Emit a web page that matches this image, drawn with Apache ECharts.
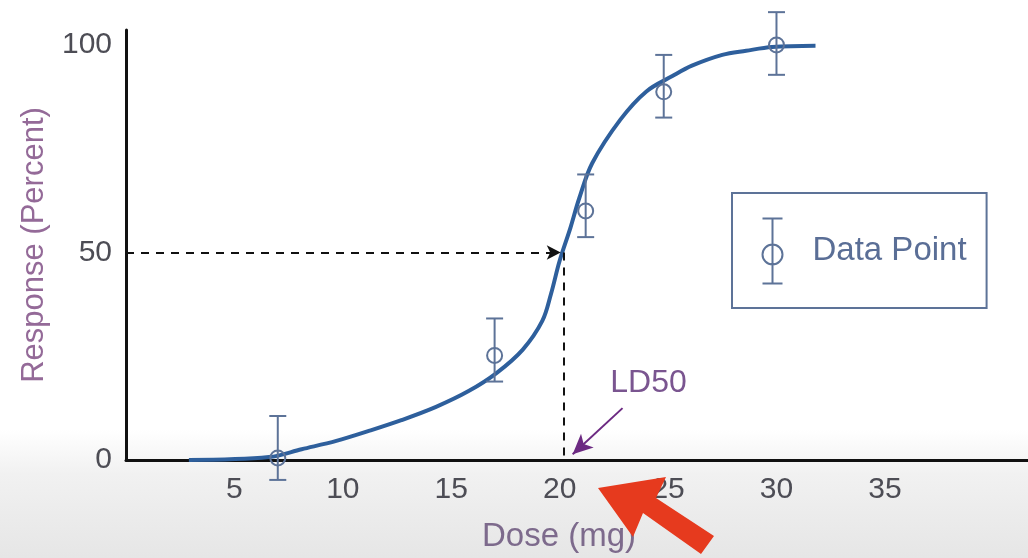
<!DOCTYPE html>
<html>
<head>
<meta charset="utf-8">
<script src="https://cdn.jsdelivr.net/npm/echarts@6/dist/echarts.min.js"></script>
<style>
html,body{margin:0;padding:0;}
body{width:1028px;height:558px;background:linear-gradient(to bottom,#ffffff 0%,#ffffff 77%,#f1f1f1 85%,#e6e6e6 100%);}
#chart{width:1028px;height:558px;}
</style>
</head>
<body>
<div id="chart"></div>
<script>
// Fitted dose-response curve
const curveDose = [2.9, 6.6, 8.1, 9.7, 11.2, 12.7, 14.3, 15.8, 17.1, 18.3, 19.2, 19.6, 20.0, 20.5, 20.9, 21.5, 22.8, 24.0, 25.2, 26.1, 27.5, 28.6, 29.8, 31.8];
const curveResponse = [0, 0.7, 2.6, 4.6, 7.0, 9.6, 12.8, 16.6, 21.0, 26.6, 33.5, 40.0, 48.0, 56.0, 63.0, 71.5, 82.0, 88.8, 92.5, 95.0, 97.6, 98.6, 99.5, 99.8];
// Measured data points with error bars
const pointDose = [7, 17, 21.2, 24.8, 30];
const pointResponse = [0.5, 25.2, 60, 88.7, 100];
const errLow = [-4.8, 18.9, 53.7, 82.5, 92.8];
const errHigh = [10.6, 34.1, 68.8, 97.6, 107.9];
// LD50
const ld50 = 20.2;
const ld50Response = 50;
// Tick labels
const xTickLabels = [5, 10, 15, 20, 25, 30, 35];
const yTickLabels = [0, 50, 100];

const errColor = '#5d7398';
const font = "'Liberation Sans', Arial, sans-serif";

const chart = echarts.init(document.getElementById('chart'), null, {renderer: 'canvas'});
const option = {
  backgroundColor: 'transparent',
  animation: false,
  textStyle: {fontFamily: font},
  grid: {left: 126, right: 0, top: 30, bottom: 96, containLabel: false},
  legend: {
    show: true,
    data: ['Data Point'],
    left: 732, top: 193,
    orient: 'vertical',
    padding: [23, 20, 22, 28],
    borderColor: errColor, borderWidth: 2,
    itemWidth: 20, itemHeight: 65,
    icon: 'path://M0,0 L20,0 M10,0 L10,65 M0,65 L20,65 M20,36 A10,10 0 1,1 0,36 A10,10 0 1,1 20,36 Z',
    itemStyle: {color: 'none', borderColor: errColor, borderWidth: 2},
    textStyle: {fontSize: 33, color: '#5a6e96', fontFamily: font, padding: [0, 0, 0, 25]},
    selectedMode: false
  },
  xAxis: {
    type: 'value', min: 0, max: 41.6, interval: 5,
    name: 'Dose (mg)', nameLocation: 'middle', nameGap: 60,
    nameTextStyle: {fontSize: 33, color: '#7d6a8c', fontFamily: font, padding: [0, 36, 0, 0]},
    axisLine: {show: true, onZero: false, lineStyle: {color: '#111', width: 3}},
    axisTick: {show: false},
    splitLine: {show: false},
    axisLabel: {
      fontSize: 30, color: '#4d4d55', margin: 15, fontFamily: font,
      showMaxLabel: false,
      formatter: v => xTickLabels.indexOf(v) >= 0 ? String(v) : ''
    }
  },
  yAxis: {
    type: 'value', min: 0, max: 103.6, interval: 50,
    name: 'Response (Percent)', nameLocation: 'middle', nameGap: 76, nameRotate: 90,
    nameTextStyle: {fontSize: 31, color: '#946a98', fontFamily: font},
    axisLine: {show: true, onZero: false, lineStyle: {color: '#111', width: 3}},
    axisTick: {show: false},
    splitLine: {show: false},
    axisLabel: {
      fontSize: 30, color: '#4d4d55', margin: 14, fontFamily: font,
      formatter: v => yTickLabels.indexOf(v) >= 0 ? String(v) : ''
    }
  },
  series: [
    {
      name: 'Curve', type: 'line',
      data: curveDose.map((d, i) => [d, curveResponse[i]]),
      smooth: 0.35,
      showSymbol: false, symbol: 'none',
      lineStyle: {color: '#2e5f9c', width: 4},
      z: 3,
      markLine: {
        silent: true, animation: false,
        symbol: ['none', 'none'],
        label: {show: false},
        data: [
          [
            {coord: [0, ld50Response], lineStyle: {color: '#111', type: [8, 7], width: 2}},
            {coord: [ld50 - 0.15, ld50Response], symbol: 'arrow', symbolSize: [11, 14]}
          ],
          [
            {coord: [ld50, ld50Response], lineStyle: {color: '#111', type: [8, 7], width: 2}},
            {coord: [ld50, 0]}
          ],
          [
            {coord: [22.9, 12.5], lineStyle: {color: '#6c2a82', type: 'solid', width: 2}},
            {coord: [20.6, 1.4], symbol: 'arrow', symbolSize: [14, 20]}
          ]
        ]
      },
      markPoint: {
        silent: true, animation: false,
        symbol: 'circle', symbolSize: 0,
        label: {show: true, position: 'inside', formatter: 'LD50', fontSize: 32, color: '#7a5590', fontFamily: font},
        data: [{coord: [24.1, 18.5]}]
      }
    },
    {
      name: 'Data Point', type: 'custom',
      data: pointDose.map((d, i) => [d, pointResponse[i], errLow[i], errHigh[i]]),
      encode: {x: 0, y: 1},
      clip: false,
      z: 4,
      itemStyle: {color: errColor},
      renderItem: function (params, api) {
        const x = api.value(0), y = api.value(1), lo = api.value(2), hi = api.value(3);
        const c = api.coord([x, y]);
        const pl = api.coord([x, lo]);
        const ph = api.coord([x, hi]);
        const hw = 8.5, r = 7.5;
        const st = {stroke: errColor, lineWidth: 2, fill: null};
        return {
          type: 'group',
          children: [
            {type: 'line', shape: {x1: c[0], y1: ph[1], x2: c[0], y2: pl[1]}, style: st},
            {type: 'line', shape: {x1: c[0] - hw, y1: ph[1], x2: c[0] + hw, y2: ph[1]}, style: st},
            {type: 'line', shape: {x1: c[0] - hw, y1: pl[1], x2: c[0] + hw, y2: pl[1]}, style: st},
            {type: 'circle', shape: {cx: c[0], cy: c[1], r: r}, style: {stroke: errColor, lineWidth: 2, fill: 'none'}}
          ]
        };
      }
    }
  ],
  graphic: [
    {
      type: 'polygon', z: 100, silent: true,
      shape: {points: [[598, 488], [666, 477], [656, 498], [714, 536], [701, 554], [643, 513], [633, 537]]},
      style: {fill: '#e63a1e'}
    }
  ]
};
chart.setOption(option);
</script>
</body>
</html>
